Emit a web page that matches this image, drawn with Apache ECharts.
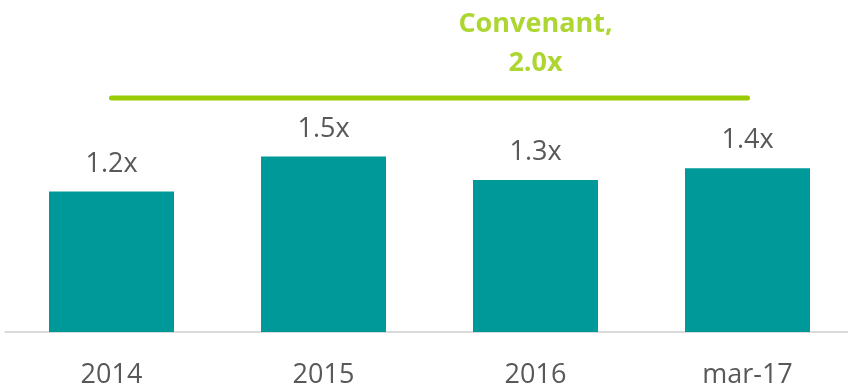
<!DOCTYPE html>
<html>
<head>
<meta charset="utf-8">
<script src="https://cdn.jsdelivr.net/npm/echarts@6/dist/echarts.min.js"></script>
<style>
  html, body { margin: 0; padding: 0; background: #ffffff; }
  #chart { width: 848px; height: 387px; }
</style>
</head>
<body>
<div id="chart"></div>
<script>
// Leverage ratio by period, with the covenant threshold drawn across all periods
const categories = ['2014', '2015', '2016', 'mar-17'];
const leverage = [1.2, 1.5, 1.3, 1.4];
const covenant = [2.0, 2.0, 2.0, 2.0];
const covenantLabelIndex = 2;
const covenantName = 'Convenant,';

const fontFamily = '"Open Sans", "Liberation Sans", sans-serif';

const chart = echarts.init(document.getElementById('chart'), null, { renderer: 'canvas' });

chart.setOption({
  animation: false,
  backgroundColor: '#ffffff',
  grid: {
    left: 5.5, width: 848, top: 39.5, bottom: 55,
    containLabel: false,
    outerBoundsMode: 'none'
  },
  xAxis: {
    type: 'category',
    data: categories,
    axisLine: { show: true, lineStyle: { color: '#D9D9D9', width: 2 } },
    axisTick: { show: false },
    axisLabel: {
      color: '#595959',
      fontFamily: fontFamily,
      fontSize: 27,
      margin: 30
    }
  },
  yAxis: {
    type: 'value',
    min: 0,
    max: 2.5,
    show: false,
    splitLine: { show: false }
  },
  series: [
    {
      type: 'bar',
      data: leverage,
      barWidth: 125,
      itemStyle: { color: '#009999' },
      label: {
        show: true,
        position: 'top',
        distance: 14,
        color: '#595959',
        fontFamily: fontFamily,
        fontSize: 27,
        formatter: p => p.value.toFixed(1) + 'x'
      },
      z: 2
    },
    {
      type: 'line',
      data: covenant,
      symbol: 'none',
      clip: false,
      lineStyle: { color: '#99CC00', width: 5, cap: 'round' },
      emphasis: { disabled: true },
      z: 3
    },
    {
      // covenant caption, placed over the 2016 category
      type: 'scatter',
      data: covenant.map((v, i) => i === covenantLabelIndex ? v : null),
      symbolSize: 1,
      itemStyle: { color: 'rgba(0,0,0,0)' },
      label: {
        show: true,
        position: 'top',
        distance: 15,
        color: '#99CC00',
        fontFamily: fontFamily,
        fontSize: 27,
        fontWeight: 'bold',
        lineHeight: 39,
        align: 'center',
        formatter: p => covenantName + '\n' + p.value.toFixed(1) + 'x'
      },
      emphasis: { disabled: true },
      silent: true,
      z: 4
    }
  ]
});
</script>
</body>
</html>
